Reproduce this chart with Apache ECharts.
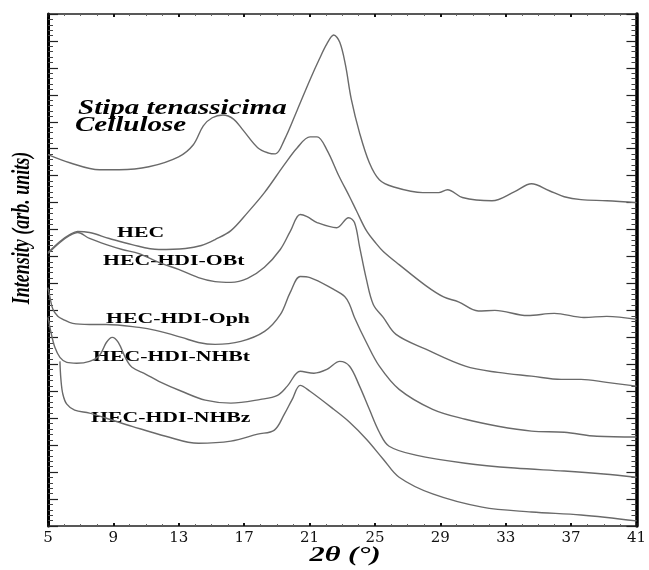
<!DOCTYPE html>
<html>
<head>
<meta charset="utf-8">
<script src="https://cdn.jsdelivr.net/npm/echarts@6/dist/echarts.min.js"></script>
<style>
html,body{margin:0;padding:0;background:#fff;}
#chart{width:649px;height:570px;}
</style>
</head>
<body>
<div id="chart"></div>
<script>
// ---- tick labels ----
var xTickLabels = ['5','9','13','17','21','25','29','33','37','41'];

// ---- series data (2θ in degrees, intensity in arbitrary stacked units) ----
var stipaX = [5.00,6.33,8.15,9.36,11.17,12.99,13.89,14.50,15.05,15.70,16.35,16.92,17.83,18.50,18.91,19.46,20.25,21.03,21.58,22.06,22.48,22.85,23.20,23.55,24.06,24.66,25.27,26.11,27.93,28.90,29.44,30.35,32.16,33.55,34.58,35.67,36.58,37.61,39.18,41.00];
var stipaY = [13.78,13.48,13.22,13.22,13.33,13.70,14.15,14.85,15.15,15.25,15.10,14.70,14.04,13.84,13.81,14.33,15.44,16.56,17.30,17.89,18.22,17.95,17.10,15.85,14.59,13.48,12.85,12.59,12.37,12.37,12.48,12.19,12.07,12.41,12.70,12.44,12.22,12.11,12.07,12.00];

var hecX = [5.00,5.73,6.33,6.81,7.54,8.75,10.14,11.78,13.41,14.38,15.22,16.19,17.21,18.24,19.46,20.25,21.03,21.46,22.06,22.79,23.45,23.87,24.48,25.08,25.51,26.48,28.11,29.20,30.11,31.32,32.34,34.34,35.97,37.79,39.18,41.00];
var hecY = [10.15,10.56,10.81,10.93,10.89,10.67,10.44,10.26,10.30,10.41,10.63,10.96,11.63,12.37,13.41,14.04,14.44,14.44,13.96,13.00,12.22,11.70,10.96,10.48,10.19,9.70,8.92,8.50,8.32,7.98,8.00,7.81,7.89,7.74,7.78,7.67];

var obtX = [5.00,5.73,6.33,6.81,7.54,8.57,9.54,10.57,11.78,12.99,14.20,15.22,16.19,17.21,18.24,19.21,19.82,20.43,20.85,21.46,22.66,23.39,23.75,24.06,24.48,24.90,25.51,26.29,28.11,30.53,32.53,34.58,36.40,37.61,39.18,41.00];
var obtY = [10.11,10.52,10.78,10.89,10.67,10.44,10.26,10.11,9.78,9.52,9.22,9.07,9.04,9.19,9.60,10.26,10.93,11.56,11.48,11.26,11.07,11.44,11.26,10.37,9.15,8.22,7.74,7.11,6.56,5.93,5.70,5.56,5.44,5.44,5.33,5.19];

var ophX = [5.00,5.12,5.30,5.60,5.91,6.51,7.54,8.57,10.57,11.59,13.17,14.20,15.22,16.80,18.25,19.22,19.82,20.43,21.03,22.48,23.15,23.45,23.75,24.48,25.27,26.48,28.53,30.53,32.53,34.58,36.58,38.58,41.00];
var ophY = [8.85,8.48,8.04,7.78,7.67,7.52,7.48,7.48,7.37,7.26,7.00,6.81,6.74,6.85,7.22,7.85,8.67,9.26,9.22,8.78,8.52,8.22,7.74,6.81,5.93,5.07,4.33,3.96,3.70,3.52,3.48,3.33,3.30];

var nhbtX = [5.00,5.18,5.42,5.73,6.15,6.75,7.54,8.15,8.57,8.93,9.30,9.78,10.14,10.99,11.78,13.17,14.62,16.19,18.01,19.04,19.64,20.43,21.27,22.06,22.85,23.45,24.06,24.66,25.27,25.87,27.50,30.53,33.55,36.58,39.00,41.00];
var nhbtY = [7.74,7.19,6.63,6.26,6.07,6.04,6.11,6.33,6.81,7.00,6.81,6.19,5.89,5.63,5.37,5.00,4.67,4.56,4.70,4.85,5.19,5.74,5.67,5.81,6.11,5.93,5.19,4.33,3.48,2.96,2.63,2.33,2.15,2.04,1.93,1.81];

var nhbzX = [5.73,5.79,5.91,6.15,6.63,7.54,8.57,10.14,12.20,14.20,16.19,17.83,18.85,19.46,19.94,20.43,21.03,22.48,23.45,24.48,25.51,26.48,28.53,31.56,34.58,37.61,41.00];
var nhbzY = [6.11,5.44,4.89,4.52,4.30,4.19,4.00,3.70,3.33,3.07,3.15,3.41,3.56,4.15,4.70,5.22,5.00,4.33,3.85,3.22,2.48,1.81,1.19,0.70,0.52,0.41,0.19];

var seriesNames = ['Stipa tenassicima Cellulose','HEC','HEC-HDI-OBt','HEC-HDI-Oph','HEC-HDI-NHBt','HEC-HDI-NHBz'];
var seriesXs = [stipaX, hecX, obtX, ophX, nhbtX, nhbzX];
var seriesYs = [stipaY, hecY, obtY, ophY, nhbtY, nhbzY];

function zip(xs, ys){ return xs.map(function(x,i){ return [x, ys[i]]; }); }

var chart = echarts.init(document.getElementById('chart'), null, {renderer:'canvas'});

var SERIF = '"Liberation Serif", "Times New Roman", serif';

function xAxisCfg(pos){
  return {
    type:'value', min:5, max:41, interval:4, position:pos,
    axisLine:{show:true, onZero:false, lineStyle:{color:'#222', width:1.5}},
    axisTick:{show:true, inside:true, length:3, lineStyle:{color:'#111', width:2}},
    minorTick:{show:true, splitNumber:4, length:2, lineStyle:{color:'#666', width:1}},
    splitLine:{show:false},
    axisLabel: pos === 'bottom' ? {
      show:true, margin:5, color:'#111', fontSize:15, fontFamily:'"DejaVu Serif", serif',
      formatter:function(v){ var i = Math.round((v-5)/4); return xTickLabels[i] || ''; }
    } : {show:false}
  };
}
function yAxisCfg(pos, w){
  return {
    type:'value', min:0, max:19, interval:1, position:pos,
    axisLine:{show:true, onZero:false, lineStyle:{color:'#000', width:w}},
    axisTick:{show:true, inside:true, length:10, lineStyle:{color:'#222', width:1.2}},
    minorTick:{show:true, splitNumber:5, length:5, lineStyle:{color:'#444', width:1}},
    splitLine:{show:false},
    axisLabel:{show:false}
  };
}

var series = seriesNames.map(function(name, k){
  return {
    name:name, type:'line', xAxisIndex:0, yAxisIndex:0,
    data: zip(seriesXs[k], seriesYs[k]),
    showSymbol:false, smooth:0.35, silent:true,
    lineStyle:{color:'#6a6a6a', width:1.4}
  };
});

function label(text, x, y, font, sx){
  return {
    type:'text', x:x, y:y, scaleX:sx, silent:true,
    style:{text:text, font:font, fill:'#000', align:'left', verticalAlign:'middle'}
  };
}

var BI20 = 'italic bold 20px ' + SERIF;
var B15 = 'bold 15px ' + SERIF;

chart.setOption({
  animation:false,
  backgroundColor:'#ffffff',
  grid:{left:48, right:6, top:14, bottom:44, containLabel:false},
  xAxis:[xAxisCfg('bottom'), xAxisCfg('top')],
  yAxis:[yAxisCfg('left', 3), yAxisCfg('right', 3.5)],
  series: series,
  graphic:[
    label('Stipa tenassicima', 78, 109, BI20, 1.45),
    label('Cellulose', 75, 126, BI20, 1.45),
    label('HEC', 117, 233.5, B15, 1.45),
    label('HEC-HDI-OBt', 103, 261.5, B15, 1.45),
    label('HEC-HDI-Oph', 106, 319, B15, 1.45),
    label('HEC-HDI-NHBt', 93, 357, B15, 1.45),
    label('HEC-HDI-NHBz', 91, 418.5, B15, 1.45),
    {type:'text', x:345, y:556, scaleX:1.45, silent:true,
     style:{text:'2\u03B8 (\u00B0)', font:'italic bold 21px ' + SERIF, fill:'#000', align:'center', verticalAlign:'middle'}},
    {type:'text', x:22, y:228, rotation:Math.PI/2, scaleY:1.4, silent:true,
     style:{text:'Intensity (arb. units)', font:'italic bold 18px ' + SERIF, fill:'#000', align:'center', verticalAlign:'middle'}}
  ]
});
</script>
</body>
</html>
